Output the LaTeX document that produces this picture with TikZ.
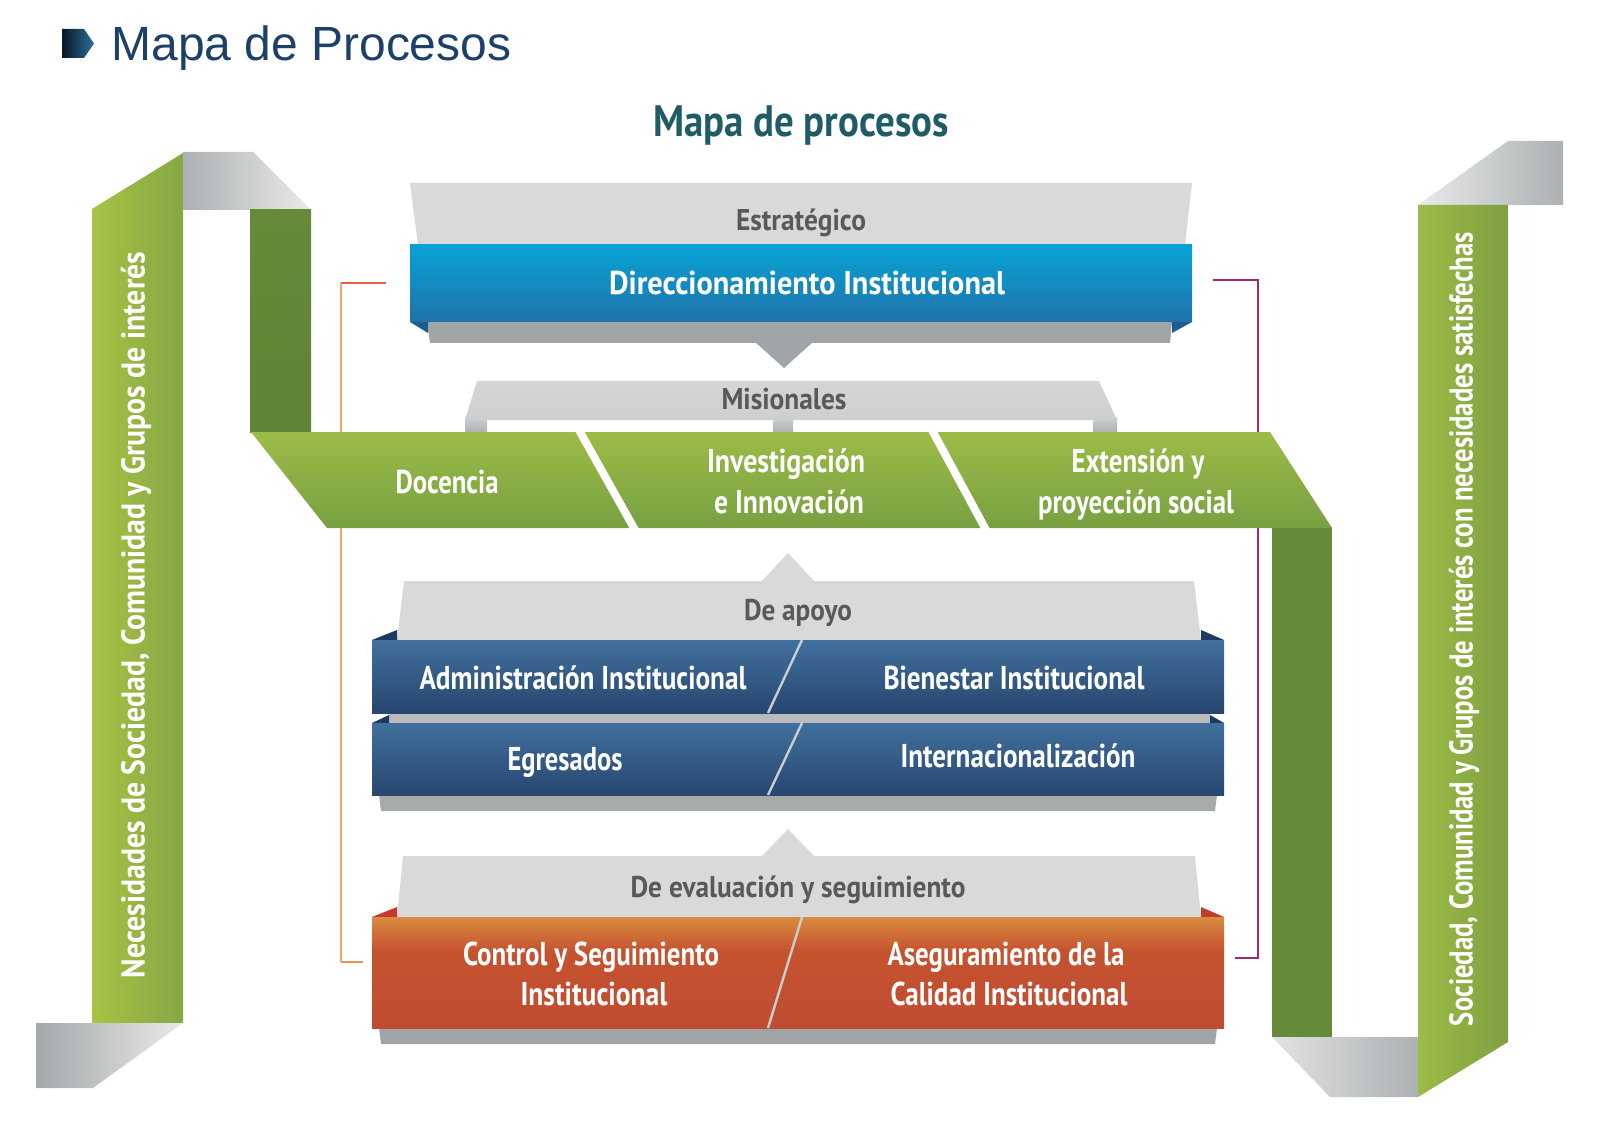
\documentclass[tikz,border=0pt]{standalone}
\usepackage{fontspec}
\usepackage{graphicx}
\setmainfont{Liberation Sans}
\newfontfamily\cond{PT Sans}
\newcommand\fitx[2]{\resizebox{#1}{\height}{#2}}
\definecolor{ttl}{HTML}{1C4069}
\definecolor{subt}{HTML}{1F5C66}
\definecolor{grt}{HTML}{58595B}
\definecolor{lgray}{HTML}{D9D9DA}
\definecolor{sgray}{HTML}{A1A5A7}
\definecolor{gLight}{HTML}{E8E9EA}
\definecolor{gDark}{HTML}{ADB1B3}
\definecolor{grL}{HTML}{A8C244}
\definecolor{grR}{HTML}{85A745}
\definecolor{grT}{HTML}{9CBC47}
\definecolor{grB}{HTML}{78A042}
\definecolor{dgr}{HTML}{648A3A}
\definecolor{dgrM}{HTML}{7B9E48}
\definecolor{blT}{HTML}{07A3D5}
\definecolor{blB}{HTML}{2172AA}
\definecolor{blFold}{HTML}{1D5C8C}
\definecolor{nvT}{HTML}{41709D}
\definecolor{nvB}{HTML}{27466F}
\definecolor{nvFold}{HTML}{1E3A60}
\definecolor{orT}{HTML}{D98B40}
\definecolor{orM}{HTML}{C5532F}
\definecolor{orB}{HTML}{BF4C32}
\definecolor{rdFold}{HTML}{C43A2C}
\definecolor{lnRed}{HTML}{E0613F}
\definecolor{lnOr}{HTML}{F0A566}
\definecolor{lnPur}{HTML}{9C2B6F}
\definecolor{divl}{HTML}{C9CCD0}
\definecolor{legT}{HTML}{CDCFD1}
\definecolor{legB}{HTML}{AEB1B3}
\definecolor{bulL}{HTML}{061626}
\definecolor{bulR}{HTML}{2F6F96}
\tikzset{
  wl/.style={text=white, inner sep=0pt, anchor=base, font=\cond\bfseries\fontsize{16.5}{16.5}\selectfont},
  gl/.style={text=grt, inner sep=0pt, anchor=base, font=\cond\bfseries\fontsize{15}{15}\selectfont},
  vl/.style={text=white, inner sep=0pt, rotate=90, font=\cond\bfseries\fontsize{16.5}{16.5}\selectfont},
  bracket/.style={line width=1pt},
  legs/.style={top color=legT, bottom color=legB},
}
\begin{document}
\begin{tikzpicture}[x=0.5pt,y=-0.5pt]
\useasboundingbox (0,0) rectangle (1600,1128);
\fill[white] (0,0) rectangle (1600,1128);

% ---- title ----
\shade[left color=bulL, right color=bulR] (62,29) -- (84,29) -- (94,43.5) -- (84,58) -- (62,58) -- cycle;
\node[anchor=base west, inner sep=0pt, text=ttl, font=\fontsize{24}{24}\selectfont] (title) at (111,61) {\fitx{200pt}{Mapa de Procesos}};
\node[anchor=base, inner sep=0pt, text=subt, font=\cond\bfseries\fontsize{22}{22}\selectfont] (subtitle) at (801,137) {\fitx{148pt}{Mapa de procesos}};

% ---- brackets ----
\coordinate (lb1) at (386,283); \coordinate (lb2) at (341,283);
\coordinate (lb3) at (341,962); \coordinate (lb4) at (363,962);
\draw[bracket, lnRed] (lb1) -- (lb2);
\draw[bracket, lnOr] (lb2) -- (lb3);
\draw[bracket, lnOr!70!lnRed] (lb3) -- (lb4);
\coordinate (rb1) at (1213,280); \coordinate (rb2) at (1258,280);
\coordinate (rb3) at (1258,958); \coordinate (rb4) at (1235,958);
\draw[bracket, lnPur] (rb1) -- (rb2) -- (rb3) -- (rb4);

% ---- left ribbon ----
\shade[left color=grL, right color=grR] (92,209) -- (183,153) -- (183,1023) -- (92,1023) -- cycle;
\shade[left color=gDark, middle color=legT!40!gLight, right color=gLight] (183,152) -- (253,152) -- (311,210) -- (183,210) -- cycle;
\shade[top color=dgr, middle color=dgrM, bottom color=dgr!95!black] (250,210) rectangle (311,432);
\shade[left color=gDark!95!black, middle color=gLight, right color=gLight] (36,1023) -- (183,1023) -- (93,1088) -- (36,1088) -- cycle;
\node[vl] (needs) at (136,615) {\fitx{363pt}{Necesidades de Sociedad, Comunidad y Grupos de interés}};

% ---- right ribbon ----
\shade[left color=gLight, middle color=gLight!95!black, right color=gDark] (1418,205) -- (1508,141) -- (1563,141) -- (1563,205) -- cycle;
\shade[left color=grT, right color=grR!95!black] (1418,205) -- (1508,205) -- (1508,1042) -- (1418,1097) -- cycle;
\fill[dgr] (1272,527) rectangle (1332,1037);
\shade[left color=gLight!97!black, right color=gDark] (1272,1037) -- (1418,1037) -- (1418,1097) -- (1330,1097) -- cycle;
\node[vl] (sat) at (1464,629) {\fitx{397pt}{Sociedad, Comunidad y Grupos de interés con necesidades satisfechas}};

% ---- estrategico ----
\fill[lgray] (410,183) -- (1192,183) -- (1185,245) -- (418,245) -- cycle;
\fill[sgray] (427,322) -- (1172,322) -- (1170,343) -- (430,343) -- cycle;
\fill[sgray] (755,342) -- (813,342) -- (784,368) -- cycle;
\fill[blFold] (410,322) -- (428,322) -- (428,333) -- cycle;
\fill[blFold] (1192,322) -- (1172,322) -- (1172,333) -- cycle;
\shade[top color=blT, bottom color=blB] (410,245) rectangle (1192,322);
\node[gl] (estr) at (801,231) {\fitx{65pt}{Estratégico}};
\node[wl] (dir) at (807,295) {\fitx{198pt}{Direccionamiento Institucional}};

% ---- misionales ----
\shade[legs] (465,418) rectangle (487,432);
\shade[legs] (773,418) rectangle (793,432);
\shade[legs] (1093,418) rectangle (1117,432);
\shade[top color=legT!40!lgray, bottom color=legT] (477,381) -- (1099,381) -- (1117,420) -- (465,420) -- cycle;
\node[gl] (mis) at (784,409) {\fitx{62.5pt}{Misionales}};

\shade[top color=grT, bottom color=grB] (251,432) -- (1270,432) -- (1332,528) -- (327,528) -- cycle;
\fill[white] (575,431) -- (584,431) -- (639,529) -- (630,529) -- cycle;
\fill[white] (928,431) -- (937,431) -- (990,529) -- (981,529) -- cycle;
\node[wl] (doc) at (447,493) {\fitx{51.5pt}{Docencia}};
\node[wl] (inv1) at (786,472) {\fitx{79pt}{Investigación}};
\node[wl] (inv2) at (789,513) {\fitx{75pt}{e Innovación}};
\node[wl] (ext1) at (1138,472) {\fitx{66.5pt}{Extensión y}};
\node[wl] (ext2) at (1136,513) {\fitx{98pt}{proyección social}};

% ---- de apoyo ----
\fill[lgray] (761,582) -- (815,582) -- (788,553) -- cycle;
\fill[lgray] (404,581) -- (1194,581) -- (1201,640) -- (397,640) -- cycle;
\fill[sgray!95!white] (379,795) -- (1217,795) -- (1215,811) -- (381,811) -- cycle;
\fill[legT!90!black] (389,713) rectangle (1210,723);
\fill[nvFold] (372,640) -- (397,630) -- (397,640) -- cycle;
\fill[nvFold] (1224,640) -- (1201,630) -- (1201,640) -- cycle;
\shade[top color=nvT, bottom color=nvB] (372,640) rectangle (1224,713);
\fill[nvFold] (372,723) -- (389,715) -- (389,723) -- cycle;
\fill[nvFold] (1224,723) -- (1210,715) -- (1210,723) -- cycle;
\shade[top color=nvT, bottom color=nvB] (372,723) rectangle (1224,795);
\draw[divl, line width=1.2pt] (802,640) -- (768,713);
\draw[divl, line width=1.2pt] (802,723) -- (768,795);
\node[gl] (apoyo) at (798,620) {\fitx{54pt}{De apoyo}};
\node[wl] (adm) at (583,689) {\fitx{163.5pt}{Administración Institucional}};
\node[wl] (bien) at (1014,689) {\fitx{130.5pt}{Bienestar Institucional}};
\node[wl] (egr) at (565,770) {\fitx{57.5pt}{Egresados}};
\node[wl] (intl) at (1018,767) {\fitx{117.5pt}{Internacionalización}};

% ---- evaluacion ----
\fill[lgray] (761,857) -- (815,857) -- (788,829) -- cycle;
\fill[lgray] (403,856) -- (1195,856) -- (1201,917) -- (397,917) -- cycle;
\fill[sgray] (379,1028) -- (1217,1028) -- (1215,1044) -- (381,1044) -- cycle;
\fill[rdFold] (372,917) -- (397,907) -- (397,917) -- cycle;
\fill[rdFold] (1224,917) -- (1201,907) -- (1201,917) -- cycle;
\shade[top color=orT, bottom color=orM] (372,917) rectangle (1224,951);
\shade[top color=orM, bottom color=orB] (372,950) rectangle (1224,1028);
\draw[divl, line width=1.2pt] (802,917) -- (768,1028);
\node[gl] (evalt) at (798,897) {\fitx{167.5pt}{De evaluación y seguimiento}};
\node[wl] (ctl1) at (591,965) {\fitx{128pt}{Control y Seguimiento}};
\node[wl] (ctl2) at (594,1005) {\fitx{73.5pt}{Institucional}};
\node[wl] (ase1) at (1006,965) {\fitx{118.5pt}{Aseguramiento de la}};
\node[wl] (ase2) at (1009,1005) {\fitx{118.5pt}{Calidad Institucional}};
\end{tikzpicture}
\end{document}
